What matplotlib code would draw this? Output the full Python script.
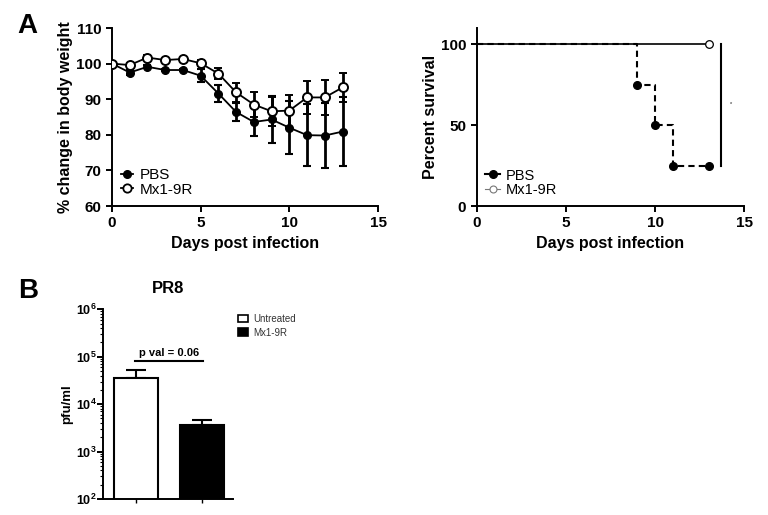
import numpy as np
import matplotlib as mpl
import matplotlib.pyplot as plt
from matplotlib.lines import Line2D
from matplotlib.patches import Patch
from matplotlib.ticker import LogLocator, LogFormatterMathtext, NullFormatter

mpl.rcParams["font.family"] = ["Liberation Sans", "DejaVu Sans"]
mpl.rcParams["font.weight"] = "bold"
mpl.rcParams["mathtext.fontset"] = "custom"
mpl.rcParams["mathtext.rm"] = "Liberation Sans:bold"
mpl.rcParams["mathtext.bf"] = "Liberation Sans:bold"
mpl.rcParams["mathtext.default"] = "bf"

# --- panel A, body weight ---
days = np.arange(14)
pbs_weight = [100, 97.5, 99.1, 98.2, 98.2, 96.6, 91.6, 86.4, 83.6, 84.3, 82.0, 79.9, 79.8, 80.9]
pbs_weight_err = [0, 0.8, 0.4, 0.4, 0.4, 1.8, 2.3, 2.6, 4.0, 6.5, 7.5, 8.7, 9.2, 9.6]
mx1_weight = [100, 99.6, 101.7, 101.0, 101.3, 100.1, 97.2, 91.9, 88.5, 86.6, 86.8, 90.5, 90.5, 93.3]
mx1_weight_err = [0, 0.5, 0.6, 0.4, 0.4, 0.8, 1.5, 2.6, 3.4, 4.0, 4.5, 4.7, 5.0, 4.2]

# --- panel A, survival ---
pbs_surv_days = [0, 9, 10, 11, 13]
pbs_surv = [100, 75, 50, 25, 25]
mx1_surv_days = [0, 13]
mx1_surv = [100, 100]

# --- panel B, titres ---
groups = ["Untreated", "Mx1-9R"]
titre = [35700, 3590]
titre_err = [16200, 1050]
bar_colors = ["white", "black"]


def style_axes(ax, size=11):
    for s in ["top", "right"]:
        ax.spines[s].set_visible(False)
    for s in ["left", "bottom"]:
        ax.spines[s].set_linewidth(1.4)
    ax.tick_params(direction="out", width=1.4, length=4, labelsize=size)
    for lab in ax.get_xticklabels() + ax.get_yticklabels():
        lab.set_fontweight("bold")


fig = plt.figure(figsize=(7.68, 5.15), dpi=100)

# body weight
ax_w = fig.add_axes([0.1458, 0.600, 0.3464, 0.3456])
ax_w.errorbar(days, pbs_weight, yerr=pbs_weight_err, color="black", lw=1.3,
              elinewidth=2, capsize=3, capthick=1.5, marker="o", ms=5.5,
              mfc="black", mec="black", zorder=2)
ax_w.errorbar(days, mx1_weight, yerr=mx1_weight_err, color="black", lw=1.3,
              elinewidth=2, capsize=3, capthick=1.5, marker="o", ms=6.5,
              mfc="white", mec="black", mew=1.4, zorder=3)
ax_w.set_xlim(0, 15)
ax_w.set_ylim(60, 110)
ax_w.set_xticks([0, 5, 10, 15])
ax_w.set_yticks(np.arange(60, 111, 10))
ax_w.set_xlabel("Days post infection", fontsize=11.5, fontweight="bold")
ax_w.set_ylabel("% change in body weight", fontsize=11.5, fontweight="bold", labelpad=2)
style_axes(ax_w)
h_w = [Line2D([], [], color="black", lw=1.3, marker="o", ms=5.5, mfc="black"),
       Line2D([], [], color="black", lw=1.3, marker="o", ms=6, mfc="white", mew=1.3)]
ax_w.legend(h_w, ["PBS", "Mx1-9R"], loc="lower left", frameon=False,
            prop={"size": 11, "weight": "normal"}, handlelength=0.8,
            handletextpad=0.4, labelspacing=0.05, borderaxespad=0.2,
            bbox_to_anchor=(0.0, 0.0))

# survival
ax_s = fig.add_axes([0.6207, 0.600, 0.3484, 0.3456])
ax_s.step(mx1_surv_days, mx1_surv, where="post", color="black", lw=1.2, zorder=2)
ax_s.plot(mx1_surv_days[-1], mx1_surv[-1], "o", ms=5.5, mfc="white", mec="black",
          mew=0.9, zorder=4, clip_on=False)
ax_s.step(pbs_surv_days, pbs_surv, where="post", color="black", lw=1.5,
          ls=(0, (3, 2)), zorder=3)
ax_s.plot(pbs_surv_days[1:], pbs_surv[1:], "o", ms=5.5, color="black", zorder=4)
ax_s.plot([13.7, 13.7], [25, 100], color="black", lw=1.5)
ax_s.text(14.25, 63, "*", fontsize=4, color="#555555", ha="center", va="center")
ax_s.set_xlim(0, 15)
ax_s.set_ylim(0, 110)
ax_s.set_xticks([0, 5, 10, 15])
ax_s.set_yticks([0, 50, 100])
ax_s.set_xlabel("Days post infection", fontsize=11.5, fontweight="bold")
ax_s.set_ylabel("Percent survival", fontsize=11.5, fontweight="bold", labelpad=2)
style_axes(ax_s)
h_s = [Line2D([], [], color="black", lw=1.5, marker="o", ms=5.5, mfc="black"),
       Line2D([], [], color="#777777", lw=0.8, marker="o", ms=5, mfc="white", mec="#777777", mew=0.8)]
ax_s.legend(h_s, ["PBS", "Mx1-9R"], loc="lower left", frameon=False,
            prop={"size": 10.5, "weight": "normal"}, handlelength=1.0,
            handletextpad=0.4, labelspacing=0.05, borderaxespad=0.2,
            bbox_to_anchor=(0.0, 0.0))

# titres
ax_b = fig.add_axes([0.1345, 0.0311, 0.1693, 0.3683])
x = np.arange(len(groups))
ax_b.bar(x, titre, width=0.67, color=bar_colors, edgecolor="black", lw=1.5, zorder=2)
ax_b.errorbar(x, titre, yerr=[[0, 0], titre_err], fmt="none", ecolor="black",
              elinewidth=1.5, capsize=7, capthick=1.5, zorder=1)
ax_b.set_yscale("log")
ax_b.set_ylim(1e2, 1e6)
ax_b.set_xlim(-0.505, 1.475)
ax_b.set_xticks(x)
ax_b.set_xticklabels([])
ax_b.yaxis.set_major_locator(LogLocator(base=10, numticks=10))
ax_b.yaxis.set_major_formatter(LogFormatterMathtext())
ax_b.yaxis.set_minor_locator(LogLocator(base=10, subs=np.arange(2, 10), numticks=10))
ax_b.yaxis.set_minor_formatter(NullFormatter())
style_axes(ax_b, size=9)
ax_b.tick_params(axis="y", pad=1)
ax_b.tick_params(axis="y", which="minor", length=2, width=0.8)
ax_b.tick_params(axis="x", length=3, width=1)
ax_b.set_ylabel("pfu/ml", fontsize=9.5, fontweight="bold", labelpad=2)
ax_b.set_title("PR8", fontsize=12, fontweight="bold", pad=12)
ax_b.plot([-0.02, 1.02], [8.1e4, 8.1e4], color="black", lw=1.5)
ax_b.text(0.5, 9.5e4, "p val = 0.06", ha="center", va="bottom", fontsize=8, fontweight="bold")
h_b = [Patch(facecolor="white", edgecolor="black", lw=1.2),
       Patch(facecolor="black", edgecolor="black", lw=1.2)]
fig.legend(h_b, groups, loc="upper left", bbox_to_anchor=(0.299, 0.407), frameon=False,
           prop={"size": 7, "weight": "normal"}, handlelength=1.0, handleheight=0.8,
           handletextpad=0.5, labelspacing=0.35, labelcolor="#333333")

fig.text(0.022, 0.975, "A", fontsize=20, fontweight="bold", va="top")
fig.text(0.024, 0.46, "B", fontsize=20, fontweight="bold", va="top")

fig.savefig("out.png", dpi=100)
